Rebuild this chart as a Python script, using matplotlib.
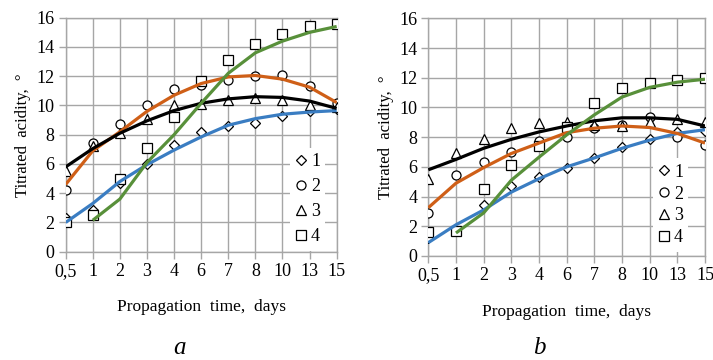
import numpy as np
import matplotlib
matplotlib.use("Agg")
import matplotlib.pyplot as plt
from matplotlib.lines import Line2D

plt.rcParams['font.family'] = ['Liberation Serif', 'DejaVu Serif']

# categories on the x axis (days)
days = ['0,5', '1', '2', '3', '4', '6', '7', '8', '10', '13', '15']

# panel a: measured points
a_s1 = [2.3, 2.85, 4.7, 6.0, 7.3, 8.2, 8.6, 8.8, 9.3, 9.6, 9.75]
a_s2 = [4.2, 7.4, 8.7, 10.0, 11.1, 11.4, 11.75, 12.0, 12.1, 11.3, 10.2]
a_s3 = [5.5, 7.2, 8.1, 9.1, 10.0, 10.1, 10.4, 10.5, 10.4, 10.0, 9.9]
a_s4 = [2.0, 2.5, 5.0, 7.1, 9.2, 11.7, 13.1, 14.2, 14.9, 15.4, 15.6]
# panel a: fitted curves
a_blue = [2.0, 3.3, 4.8, 5.95, 6.95, 7.85, 8.65, 9.1, 9.4, 9.55, 9.65]
a_orange = [4.6, 6.9, 8.2, 9.6, 10.7, 11.5, 11.95, 12.05, 11.8, 11.25, 10.2]
a_black = [5.8, 7.05, 8.1, 8.95, 9.65, 10.15, 10.45, 10.6, 10.55, 10.3, 9.8]
a_green = [np.nan, 2.15, 3.6, 6.1, 8.0, 10.15, 12.2, 13.6, 14.4, 15.0, 15.4]

# panel b: measured points
b_s1 = [1.2, 1.7, 3.4, 4.7, 5.3, 5.95, 6.6, 7.35, 7.85, 8.35, 8.4]
b_s2 = [2.9, 5.45, 6.35, 7.0, 7.75, 8.0, 8.6, 8.8, 9.35, 8.0, 7.5]
b_s3 = [5.15, 6.9, 7.85, 8.6, 8.95, 9.0, 8.8, 8.75, 9.0, 9.25, 9.0]
b_s4 = [1.6, 1.7, 4.5, 6.1, 7.4, 8.7, 10.3, 11.3, 11.65, 11.85, 11.95]
# panel b: fitted curves
b_blue = [0.9, 2.1, 3.1, 4.3, 5.2, 6.0, 6.6, 7.25, 7.8, 8.25, 8.5]
b_orange = [3.25, 4.9, 5.95, 6.9, 7.6, 8.3, 8.6, 8.75, 8.65, 8.25, 7.6]
b_black = [5.8, 6.5, 7.25, 7.85, 8.35, 8.75, 9.1, 9.3, 9.3, 9.2, 8.75]
b_green = [np.nan, 1.55, 2.9, 5.1, 6.65, 8.15, 9.5, 10.7, 11.35, 11.7, 11.9]

labels = ['1', '2', '3', '4']
markers = ['D', 'o', '^', 's']
msizes = [5.0, 6.5, 6.5, 6.8]
blue, orange, green = '#3a7dc2', '#cf5f17', '#58903a'
grid_c = '#a6a6a6'

fig = plt.figure(figsize=(7.13, 3.6), dpi=100)
ax_a = fig.add_axes([0.0921, 0.3008, 0.3801, 0.650])
ax_b = fig.add_axes([0.6007, 0.2889, 0.3881, 0.6603])


def draw(ax, pts, curves, leg_anchor, leg_space):
    x = np.arange(len(days))
    for vals, m, ms in zip(pts, markers, msizes):
        ax.plot(x, vals, linestyle='none', marker=m, ms=ms, mfc='white',
                mec='black', mew=0.9, zorder=3)
    for vals, c in curves:
        ax.plot(x, vals, color=c, lw=2.3, zorder=4, solid_capstyle='butt')
    ax.set_xlim(0, len(days) - 1)
    ax.set_ylim(0, 16)
    ax.set_xticks(x)
    ax.set_xticklabels(days)
    ax.set_yticks(np.arange(0, 17, 2))
    ax.grid(True, color=grid_c, lw=1.0)
    ax.set_axisbelow(True)
    for s in ax.spines.values():
        s.set_color(grid_c)
        s.set_linewidth(1.0)
    ax.tick_params(length=5, color=grid_c, width=1.0, labelsize=13, pad=3)
    ax.set_xlabel('Propagation  time,  days', fontsize=12.5, labelpad=14)
    ax.set_ylabel('Titrated  acidity,  °', fontsize=12, labelpad=4)
    handles = [Line2D([], [], linestyle='none', marker=m, ms=ms, mfc='white',
                      mec='black', mew=0.9) for m, ms in zip(markers, msizes)]
    leg = ax.legend(handles, labels, loc='lower left', bbox_to_anchor=leg_anchor,
                    fontsize=13, frameon=True, fancybox=False, framealpha=1,
                    edgecolor='none', facecolor='white', handlelength=0.6,
                    handletextpad=0.25, labelspacing=leg_space, borderpad=0.3)
    leg.set_zorder(6)


draw(ax_a, [a_s1, a_s2, a_s3, a_s4],
     [(a_blue, blue), (a_orange, orange), (a_black, 'black'), (a_green, green)],
     (0.795, -0.035), 0.45)
draw(ax_b, [b_s1, b_s2, b_s3, b_s4],
     [(b_blue, blue), (b_orange, orange), (b_black, 'black'), (b_green, green)],
     (0.78, -0.02), 0.27)

fig.text(0.252, 0.018, 'a', fontsize=18, style='italic', ha='center')
fig.text(0.757, 0.018, 'b', fontsize=18, style='italic', ha='center')

fig.savefig('out.png', dpi=100)
